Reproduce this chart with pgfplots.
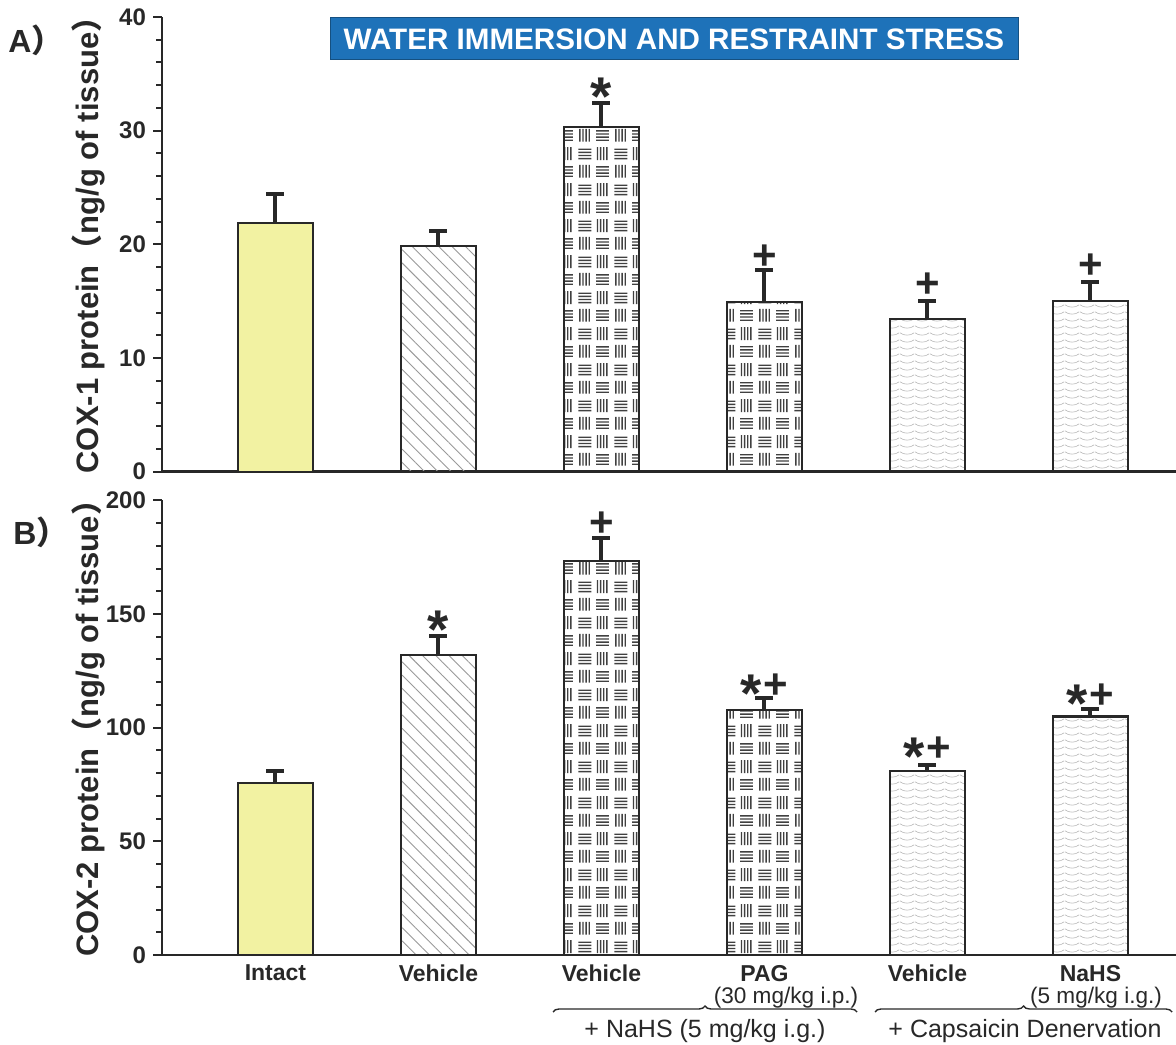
\documentclass[border=0pt]{standalone}
\usepackage{fontspec}
\setmainfont{Liberation Sans}
\newfontfamily\cjk{Noto Sans CJK SC}
\usepackage{graphicx}
\usepackage{pgfplots}
\pgfplotsset{compat=1.18}
\usetikzlibrary{patterns,patterns.meta,decorations.pathreplacing}

\definecolor{yel}{RGB}{242,242,162}
\definecolor{boxblue}{RGB}{30,114,185}
\definecolor{barline}{RGB}{40,40,40}

% basket weave: groups of 4 vertical / 4 horizontal strokes
\pgfdeclarepatternformonly{weave}{\pgfqpoint{0pt}{0pt}}{\pgfqpoint{18pt}{18pt}}{\pgfqpoint{18pt}{18pt}}{%
  \foreach \k in {0,1,2,3}{%
    \pgfpathrectangle{\pgfpoint{1.6pt+\k*1.6pt}{1.2pt}}{\pgfpoint{0.7pt}{6.6pt}}%
    \pgfpathrectangle{\pgfpoint{10.6pt+\k*1.6pt}{10.2pt}}{\pgfpoint{0.7pt}{6.6pt}}%
    \pgfpathrectangle{\pgfpoint{10.2pt}{1.6pt+\k*1.6pt}}{\pgfpoint{6.6pt}{0.7pt}}%
    \pgfpathrectangle{\pgfpoint{1.2pt}{10.6pt+\k*1.6pt}}{\pgfpoint{6.6pt}{0.7pt}}%
    \pgfusepath{fill}}%
}
% faint waves
\pgfdeclarepatternformonly{waves}{\pgfqpoint{0pt}{0pt}}{\pgfqpoint{7.5pt}{3.5pt}}{\pgfqpoint{7.5pt}{3.5pt}}{%
  \pgfsetlinewidth{0.35pt}%
  \pgfpathmoveto{\pgfqpoint{0pt}{2.4pt}}%
  \pgfpathcurveto{\pgfqpoint{2pt}{0.6pt}}{\pgfqpoint{5.5pt}{0.6pt}}{\pgfqpoint{7.5pt}{2.4pt}}%
  \pgfusepath{stroke}%
}

\newcommand\st{\raisebox{-7pt}{\scalebox{1.3}{*}}}
\newcommand\lp{{\cjk （}}
\newcommand\rp{{\cjk ）}}

\pgfplotsset{
  panel/.style={
    scale only axis, width=507pt, height=227.35pt,
    xmin=0.304, xmax=6.525, ymin=0,
    axis x line=bottom, axis y line=left,
    axis line style={-, line width=1.2pt, draw=barline},
    tick align=outside, major tick length=4.5pt, minor tick length=2.8pt,
    tick style={line width=1pt, draw=barline},
    minor y tick num=4,
    ybar, bar width=0.46, clip=false,
    /pgf/number format/assume math mode=true,
    yticklabel style={font=\fontsize{12}{14}\selectfont\bfseries, text=barline},
    ylabel style={font=\fontsize{15.5}{17}\selectfont\bfseries, text=barline,
      at={(axis description cs:-0.073,0.515)}, anchor=center},
  },
  mybar/.style={
    bar shift=0pt, draw=barline, line width=1.1pt,
    error bars/y dir=plus, error bars/y explicit,
    error bars/error bar style={line width=2pt, draw=barline, solid},
    error bars/error mark options={rotate=90, line width=2pt, mark size=4.5pt, draw=barline},
  },
  hatch/.style={pattern={Lines[angle=-45,distance=4.7pt,line width=0.45pt]}, pattern color=black!40},
  weavefill/.style={pattern=weave, pattern color=black!75},
  wavefill/.style={pattern=waves, pattern color=black!28},
}
\tikzset{sig/.style={font=\fontsize{21}{22}\selectfont\bfseries, anchor=base, yshift=-7.5pt, inner sep=0pt, text=barline}}

\begin{document}
\begin{tikzpicture}

% ---------- A) COX-1 ----------
\begin{axis}[panel, at={(81pt,286.15pt)}, anchor=south west,
  ymax=40, ytick={0,10,20,30,40}, xtick=\empty,
  ylabel={COX-1 protein\lp ng/g of tissue\rp}]
\addplot[mybar, fill=yel]   coordinates {(1,21.9) +- (0,2.5)};
\addplot[mybar, hatch]      coordinates {(2,19.85) +- (0,1.35)};
\addplot[mybar, weavefill]  coordinates {(3,30.3) +- (0,2.15)};
\addplot[mybar, weavefill]  coordinates {(4,14.9) +- (0,2.8)};
\addplot[mybar, wavefill]   coordinates {(5,13.4) +- (0,1.6)};
\addplot[mybar, wavefill]   coordinates {(6,15.0) +- (0,1.7)};
\node[sig] at (axis cs:3,33.9) {\st};
\node[sig] at (axis cs:4,19.15) {+};
\node[sig] at (axis cs:5,16.66) {+};
\node[sig] at (axis cs:6,18.3) {+};
\end{axis}

% ---------- B) COX-2 ----------
\begin{axis}[panel, at={(81pt,44.5pt)}, anchor=south west,
  ymax=200, ytick={0,50,100,150,200},
  xtick={1,2,3,4,5,6},
  xticklabels={Intact,Vehicle,Vehicle,PAG,Vehicle,NaHS},
  xtick style={draw=none},
  xticklabel style={font=\fontsize{11.5}{13}\selectfont\bfseries, text=barline, yshift=3pt},
  ylabel={COX-2 protein\lp ng/g of tissue\rp}]
\addplot[mybar, fill=yel]   coordinates {(1,75.7) +- (0,5.2)};
\addplot[mybar, hatch]      coordinates {(2,131.9) +- (0,8.5)};
\addplot[mybar, weavefill]  coordinates {(3,173.2) +- (0,10.2)};
\addplot[mybar, weavefill]  coordinates {(4,107.8) +- (0,5.1)};
\addplot[mybar, wavefill]   coordinates {(5,80.9) +- (0,2.5)};
\addplot[mybar, wavefill]   coordinates {(6,104.9) +- (0,3.2)};
\node[sig] at (axis cs:2,147.5) {\st};
\node[sig] at (axis cs:3,190.5) {+};
\node[sig] at (axis cs:4,119.5) {\st\kern1pt+};
\node[sig] at (axis cs:5,91.6) {\st\kern1pt+};
\node[sig] at (axis cs:6,115) {\st\kern1pt+};
\end{axis}

% title box and panel letters
\node[fill=boxblue, draw=boxblue!70!black, line width=0.5pt, text=white,
  minimum width=344pt, minimum height=21pt, inner sep=0pt,
  font=\fontsize{14.8}{16}\selectfont\bfseries] at (337pt,502.5pt)
  {WATER IMMERSION AND RESTRAINT STRESS};
\node[anchor=base west, inner sep=0pt, text=barline] at (4pt,495.5pt)
  {\fontsize{16}{18}\selectfont\bfseries A\cjk ）};
\node[anchor=base west, inner sep=0pt, text=barline] at (6.5pt,249.5pt)
  {\fontsize{16}{18}\selectfont\bfseries B\cjk ）};

% dose sub-labels and group braces
\node[font=\fontsize{11.3}{13}\selectfont, text=barline] at (393pt,23pt) {(30 mg/kg i.p.)};
\node[font=\fontsize{11.3}{13}\selectfont, text=barline] at (548pt,23pt) {(5 mg/kg i.g.)};
\draw[barline, line width=0.7pt, decorate, decoration={brace, mirror, amplitude=3pt}]
  (428.5pt,16pt) -- (276.5pt,16pt);
\draw[barline, line width=0.7pt, decorate, decoration={brace, mirror, amplitude=3pt}]
  (586pt,16pt) -- (437.5pt,16pt);
\node[font=\fontsize{12.5}{14}\selectfont, text=barline] at (352.5pt,6.5pt) {+ NaHS (5 mg/kg i.g.)};
\node[font=\fontsize{12.5}{14}\selectfont, text=barline] at (512.5pt,6.5pt) {+ Capsaicin Denervation};

\pgfresetboundingbox
\path (0,0) rectangle (588pt,522pt);
\end{tikzpicture}
\end{document}
